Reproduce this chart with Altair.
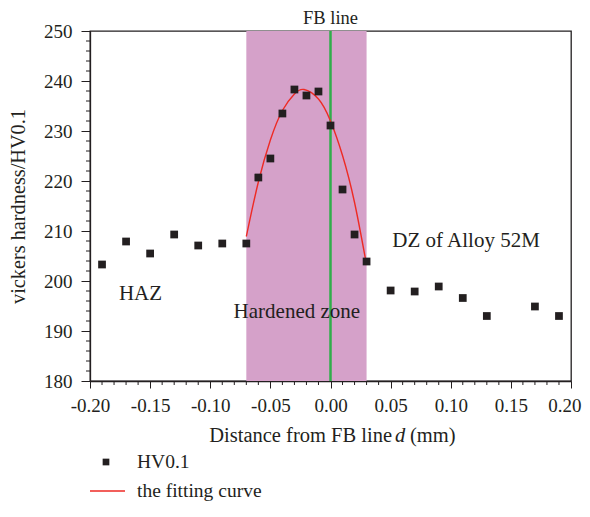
import altair as alt
import pandas as pd

# measured hardness points
hv_x = [-0.19, -0.17, -0.15, -0.13, -0.11, -0.09, -0.07, -0.06, -0.05, -0.04, -0.03, -0.02,
        -0.01, 0.00, 0.01, 0.02, 0.03, 0.05, 0.07, 0.09, 0.11, 0.13, 0.17, 0.19]
hv_y = [203.3, 207.9, 205.5, 209.3, 207.1, 207.5, 207.5, 220.7, 224.5, 233.5, 238.3, 237.1,
        237.9, 231.1, 218.3, 209.3, 203.9, 198.1, 197.9, 198.9, 196.6, 193.0, 194.9, 193.0]

# fitting curve
fit_x = [-0.07, -0.06, -0.05, -0.04, -0.03, -0.022, -0.01, 0.00, 0.01, 0.02, 0.03]
fit_y = [208.9, 219.8, 228.2, 234.1, 237.4, 238.3, 236.4, 232.0, 225.1, 215.7, 203.2]

band_start = [-0.07]
band_end = [0.03]
fb_line = [0.0]

x_major = [-0.20, -0.15, -0.10, -0.05, 0.00, 0.05, 0.10, 0.15, 0.20]
x_minor = [round(-0.20 + 0.01 * i, 2) for i in range(41)]
y_major = [180, 190, 200, 210, 220, 230, 240, 250]
y_minor = [180 + 2 * i for i in range(36)]

notes_text = ["HAZ", "Hardened zone", "DZ of Alloy 52M"]
notes_x = [-0.158, -0.028, 0.1127]
notes_y = [197.4, 193.8, 208.0]

FONT = "Liberation Serif"
W, H = 481, 350
INK = "#231f20"

xs = alt.Scale(domain=[-0.2, 0.2], nice=False)
ys = alt.Scale(domain=[180, 250], nice=False)

pts = pd.DataFrame({"x": hv_x, "y": hv_y})
fit = pd.DataFrame({"x": fit_x, "y": fit_y})
band = pd.DataFrame({"a": band_start, "b": band_end})
fb = pd.DataFrame({"x": fb_line})
notes = pd.DataFrame({"t": notes_text, "x": notes_x, "y": notes_y})
xm = pd.DataFrame({"x": [v for v in x_minor if round(v * 100) % 5 != 0]})
ym = pd.DataFrame({"y": [v for v in y_minor if v % 10 != 0]})

label_expr = "datum.value < 0 ? '-' + format(-datum.value, '.2f') : format(datum.value, '.2f')"

band_l = alt.Chart(band).mark_rect(color="#d5a1c9").encode(
    x=alt.X("a:Q", scale=xs, axis=alt.Axis(
        values=x_major, labelExpr=label_expr, title=None,
        tickSize=7, labelPadding=8, grid=False,
        labelFlush=False, labelOverlap=False,
        labelFont=FONT, labelFontSize=19,
        labelAlign={"condition": {"test": "datum.value > 0.19", "value": "right"}, "value": "center"},
        labelOffset={"condition": {"test": "datum.value > 0.19", "value": 10}, "value": 0},
    )),
    x2="b:Q",
    y=alt.value(0), y2=alt.value(H),
)

fb_l = alt.Chart(fb).mark_rule(color="#2fae4a", strokeWidth=2.5).encode(
    x=alt.X("x:Q", scale=xs), y=alt.value(0), y2=alt.value(H)
)

fit_l = alt.Chart(fit).mark_line(color="#ee2a24", strokeWidth=1.4, interpolate="natural").encode(
    x=alt.X("x:Q", scale=xs), y=alt.Y("y:Q", scale=ys)
)

pts_l = alt.Chart(pts).mark_point(shape="square", filled=True, color=INK, size=60, opacity=1).encode(
    x=alt.X("x:Q", scale=xs),
    y=alt.Y("y:Q", scale=ys, axis=alt.Axis(values=y_major, format="d", title="vickers hardness/HV0.1",
                                          tickSize=9, labelPadding=9, titlePadding=15, grid=False,
                                          labelFlush=False, labelOverlap=False,
                                          labelFont=FONT, labelFontSize=19,
                                          titleFont=FONT, titleFontSize=20.3)),
)

notes_l = alt.Chart(notes).mark_text(font=FONT, fontSize=21, color=INK, baseline="middle").encode(
    x=alt.X("x:Q", scale=xs), y=alt.Y("y:Q", scale=ys), text="t:N"
)

fbt = alt.Chart(fb).mark_text(font=FONT, fontSize=18.5, color=INK, baseline="alphabetic", text="FB line").encode(
    x=alt.X("x:Q", scale=xs), y=alt.value(-7)
)

xminor_l = alt.Chart(xm).mark_rule(color=INK, strokeWidth=1).encode(
    x=alt.X("x:Q", scale=xs), y=alt.value(H), y2=alt.value(H + 4)
)
yminor_l = alt.Chart(ym).mark_rule(color=INK, strokeWidth=1).encode(
    y=alt.Y("y:Q", scale=ys), x=alt.value(-4), x2=alt.value(0)
)

# x axis title with italic d
tbase = dict(font=FONT, fontSize=20.5, color=INK, baseline="middle")
t1 = alt.Chart(fb).mark_text(align="right", text="Distance from FB line", **tbase).encode(
    x=alt.value(302), y=alt.value(405))
t2 = alt.Chart(fb).mark_text(align="left", text="d", fontStyle="italic", **tbase).encode(
    x=alt.value(305), y=alt.value(405))
t3 = alt.Chart(fb).mark_text(align="left", text="(mm)", **tbase).encode(
    x=alt.value(320), y=alt.value(405))

# legend
lbase = dict(font=FONT, fontSize=19.5, color=INK, baseline="middle")
lg1 = alt.Chart(fb).mark_point(shape="square", filled=True, color=INK, size=45, opacity=1).encode(
    x=alt.value(16), y=alt.value(431))
lg2 = alt.Chart(fb).mark_rule(color="#ee2a24", strokeWidth=1.4).encode(
    x=alt.value(0), x2=alt.value(35), y=alt.value(460))
lg3 = alt.Chart(fb).mark_text(align="left", text="HV0.1", **lbase).encode(
    x=alt.value(47), y=alt.value(431))
lg4 = alt.Chart(fb).mark_text(align="left", text="the fitting curve", **lbase).encode(
    x=alt.value(47), y=alt.value(460))

chart = alt.layer(
    band_l, fb_l, fit_l, pts_l, notes_l, fbt, xminor_l, yminor_l, t1, t2, t3, lg1, lg2, lg3, lg4
).properties(
    width=W, height=H,
    autosize=alt.AutoSizeParams(type="none"),
    padding={"left": 82, "top": 23, "right": 11, "bottom": 128},
).configure_view(
    stroke=INK, strokeWidth=1.3
).configure_axis(
    labelFont=FONT, titleFont=FONT, labelFontSize=19, titleFontSize=20.3,
    labelColor=INK, titleColor=INK, domainColor=INK, tickColor=INK,
    titleFontWeight="normal", domainWidth=1.3, tickWidth=1
)

chart.save("out.html", embed_options={"renderer": "svg", "actions": False})
